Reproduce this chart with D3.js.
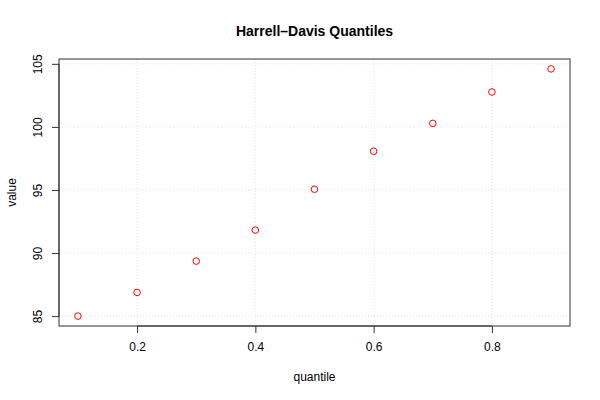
<!DOCTYPE html>
<html><head><meta charset="utf-8">
<script src="https://cdn.jsdelivr.net/npm/d3@7"></script>
<style>body{margin:0;background:#fff}svg{display:block}text{font-family:"Liberation Sans",Arial,sans-serif}</style>
</head><body>
<script>
const quantiles = [0.1,0.2,0.3,0.4,0.5,0.6,0.7,0.8,0.9];
const values = [85.0,86.88,89.36,91.82,95.06,98.07,100.28,102.77,104.6];
const xTicks = [0.2,0.4,0.6,0.8];
const yTicks = [85,90,95,100,105];

const W=600,H=400, L=59, R=570, T=59, B=326;
const svg=d3.select("body").append("svg").attr("width",W).attr("height",H);
const xr=d3.extent(quantiles), yr=d3.extent(values);
const xp=(xr[1]-xr[0])*0.04, yp=(yr[1]-yr[0])*0.04;
const x=d3.scaleLinear().domain([xr[0]-xp,xr[1]+xp]).range([L,R]);
const y=d3.scaleLinear().domain([yr[0]-yp,yr[1]+yp]).range([B,T]);

// grid
svg.append("g").selectAll("line").data(xTicks).join("line")
 .attr("x1",d=>x(d)).attr("x2",d=>x(d)).attr("y1",T).attr("y2",B)
 .attr("stroke","#e2e2e2").attr("stroke-dasharray","1,2");
svg.append("g").selectAll("line").data(yTicks).join("line")
 .attr("y1",d=>y(d)).attr("y2",d=>y(d)).attr("x1",L).attr("x2",R)
 .attr("stroke","#e2e2e2").attr("stroke-dasharray","1,2");

// axes
const xa=d3.axisBottom(x).tickValues(xTicks).tickSize(7).tickPadding(9).tickFormat(d3.format(".1f"));
const gx=svg.append("g").attr("transform",`translate(0,${B})`).call(xa);
gx.select(".domain").attr("d",`M${x(xTicks[0])},0H${x(xTicks[xTicks.length-1])}`).attr("stroke","#333");
gx.selectAll("line").attr("stroke","#333");
gx.selectAll("text").attr("font-size",12).attr("fill","#000").style("font-family","Liberation Sans, Arial, sans-serif");

const ya=d3.axisLeft(y).tickValues(yTicks).tickSize(7).tickFormat(d3.format("d"));
const gy=svg.append("g").attr("transform",`translate(${L},0)`).call(ya);
gy.select(".domain").attr("d",`M0,${y(yTicks[0])}V${y(yTicks[yTicks.length-1])}`).attr("stroke","#333");
gy.selectAll("line").attr("stroke","#333");
gy.selectAll("text").attr("font-size",12).attr("fill","#000").style("font-family","Liberation Sans, Arial, sans-serif")
 .attr("x",null).attr("dy",null).attr("text-anchor","middle")
 .attr("transform","translate(-17,0) rotate(-90)").attr("dy","0");

// box
svg.append("rect").attr("x",L).attr("y",T).attr("width",R-L).attr("height",B-T)
 .attr("fill","none").attr("stroke","#333");

// points
svg.append("g").selectAll("circle").data(quantiles).join("circle")
 .attr("cx",d=>x(d)).attr("cy",(d,i)=>y(values[i])).attr("r",3.3)
 .attr("fill","none").attr("stroke","#ff0000").attr("stroke-width",1);

// labels
svg.append("text").attr("x",(L+R)/2).attr("y",36).attr("text-anchor","middle")
 .attr("font-size",14).attr("font-weight","bold").text("Harrell\u2013Davis Quantiles");
svg.append("text").attr("x",(L+R)/2).attr("y",381).attr("text-anchor","middle")
 .attr("font-size",12).text("quantile");
svg.append("text").attr("transform",`translate(16,${(T+B)/2}) rotate(-90)`).attr("text-anchor","middle")
 .attr("font-size",12).text("value");
</script>
</body></html>
